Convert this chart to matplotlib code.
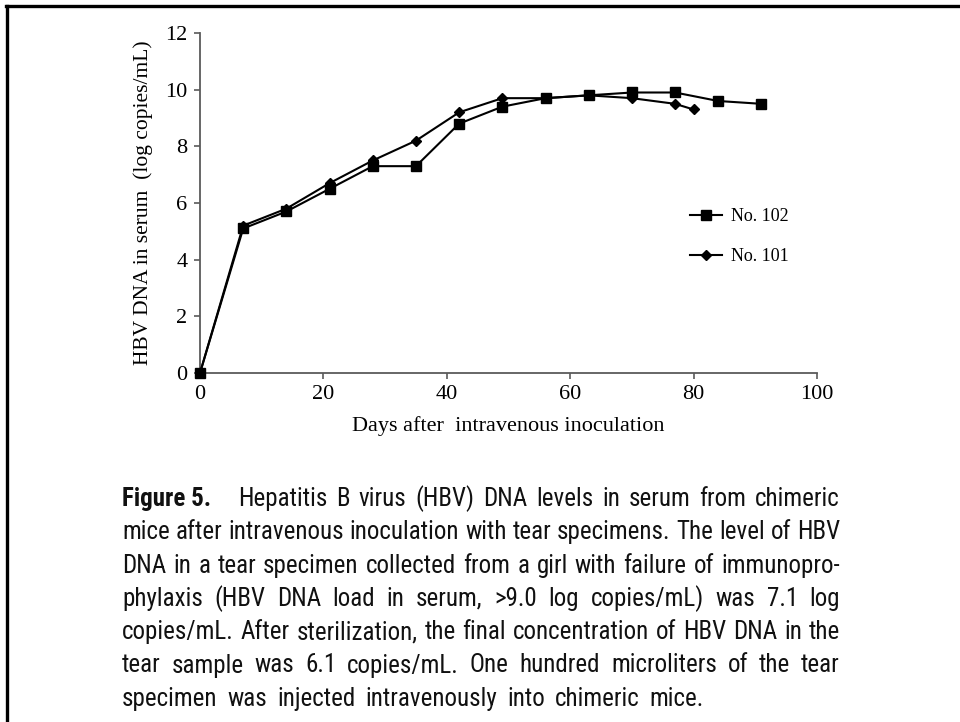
import matplotlib
matplotlib.use('Agg')
from matplotlib import pyplot as plt
from matplotlib import font_manager
from matplotlib.lines import Line2D

# values
days_102 = [0, 7, 14, 21, 28, 35, 42, 49, 56, 63, 70, 77, 84, 91]
hbv_102 = [0, 5.1, 5.7, 6.5, 7.3, 7.3, 8.8, 9.4, 9.7, 9.8, 9.9, 9.9, 9.6, 9.5]
days_101 = [0, 7, 14, 21, 28, 35, 42, 49, 56, 63, 70, 77, 80]
hbv_101 = [0, 5.2, 5.8, 6.7, 7.5, 8.2, 9.2, 9.7, 9.7, 9.8, 9.7, 9.5, 9.3]

x_ticks = [0, 20, 40, 60, 80, 100]
y_ticks = [0, 2, 4, 6, 8, 10, 12]

caption_lines = [
    "Hepatitis B virus (HBV) DNA levels in serum from chimeric",
    "mice after intravenous inoculation with tear specimens. The level of HBV",
    "DNA in a tear specimen collected from a girl with failure of immunopro-",
    "phylaxis (HBV DNA load in serum, >9.0 log copies/mL) was 7.1 log",
    "copies/mL. After sterilization, the final concentration of HBV DNA in the",
    "tear sample was 6.1 copies/mL. One hundred microliters of the tear",
    "specimen was injected intravenously into chimeric mice.",
]


def pick_font(names):
    for n in names:
        try:
            font_manager.findfont(n, fallback_to_default=False)
            return n
        except Exception:
            pass
    return 'DejaVu Sans'


serif = pick_font(['Liberation Serif', 'DejaVu Serif'])
narrow = pick_font(['Liberation Sans Narrow', 'DejaVu Sans Condensed',
                    'Roboto Condensed', 'Liberation Sans'])

W, H = 960, 722
fig = plt.figure(figsize=(W / 100, H / 100), dpi=100)
fig.patch.set_facecolor('white')

# frame lines (top and left only)
fig.add_artist(Line2D([6 / W, 1], [1 - 6 / H, 1 - 6 / H], color='black', lw=2.4))
fig.add_artist(Line2D([7 / W, 7 / W], [0, 1 - 6 / H], color='black', lw=2.4))

ax = fig.add_axes([200 / W, 1 - 373 / H, 617 / W, 340 / H])
ax.plot(days_102, hbv_102, color='black', lw=1.5, marker='s', ms=7,
        label='No. 102', clip_on=False, zorder=3)
ax.plot(days_101, hbv_101, color='black', lw=1.5, marker='D', ms=5.5,
        label='No. 101', clip_on=False, zorder=3)

ax.set_xlim(0, 100)
ax.set_ylim(0, 12)
ax.set_xticks(x_ticks)
ax.set_yticks(y_ticks)
for s in ['top', 'right']:
    ax.spines[s].set_visible(False)
for s in ['left', 'bottom']:
    ax.spines[s].set_color('#5a5a5a')
    ax.spines[s].set_linewidth(1.3)
ax.tick_params(direction='out', length=4, width=1.2, color='#5a5a5a',
               labelsize=16)
ax.tick_params(axis='x', pad=5)
ax.tick_params(axis='y', pad=5)
for lab in ax.get_xticklabels() + ax.get_yticklabels():
    lab.set_fontfamily(serif)

ax.set_xlabel('Days after  intravenous inoculation', fontsize=16,
              family=serif, labelpad=8)
ax.set_ylabel('HBV DNA in serum  (log copies/mL)', fontsize=15.5,
              family=serif, labelpad=9)

ax.legend(loc='upper left', bbox_to_anchor=(690 / W, 1 - 208 / H),
          bbox_transform=fig.transFigure, frameon=False, borderpad=0,
          borderaxespad=0, handlelength=1.75, handletextpad=0.5,
          labelspacing=1.3, prop={'family': serif, 'size': 13})

# justified caption
renderer = fig.canvas.get_renderer()
left, right = 122, 840
base0, step = 506, 33.3
cap_size = 18


def word_width(t):
    bb = t.get_window_extent(renderer)
    return bb.width


for i, line in enumerate(caption_lines):
    y = 1 - (base0 + i * step) / H
    words = line.split()
    tokens = []
    if i == 0:
        tokens.append(('Figure 5.', 'bold', 3.0))
    for w in words:
        tokens.append((w, 'normal', 1.0))
    arts = []
    for txt, weight, _ in tokens:
        t = fig.text(0, y, txt, fontsize=cap_size, family=narrow,
                     weight=weight, va='baseline', ha='left', color='#111111')
        arts.append(t)
    widths = [word_width(t) for t in arts]
    last = i == len(caption_lines) - 1
    weights = [tok[2] for tok in tokens[:-1]]
    if last:
        gap_unit = 10
    else:
        gap_unit = max(2.0, (right - left - sum(widths)) / sum(weights))
    x = left
    for k, t in enumerate(arts):
        t.set_x(x / W)
        x += widths[k]
        if k < len(weights):
            x += gap_unit * weights[k]

fig.savefig('out.png', dpi=100)
